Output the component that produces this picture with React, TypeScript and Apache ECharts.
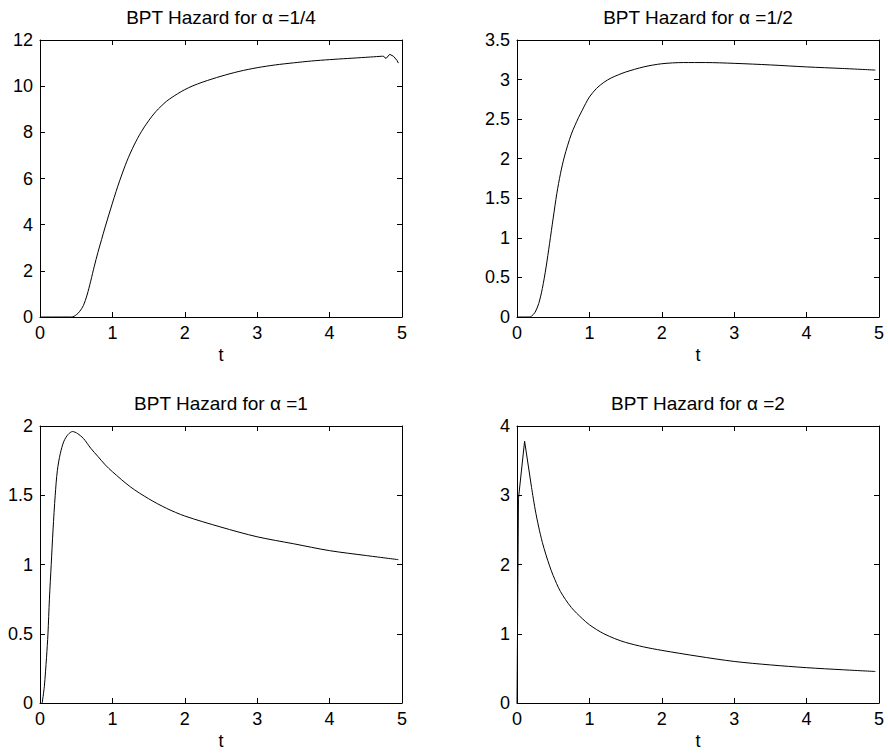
import React, { useEffect, useRef } from "react";
import * as echarts from "echarts";

// alpha = 1/4
const tA = [0, 0.2, 0.4, 0.44, 0.5, 0.55, 0.6, 0.65, 0.7, 0.75, 0.8, 0.85, 0.9, 0.95, 1.0, 1.05, 1.1, 1.2, 1.3, 1.4, 1.5, 1.6, 1.75, 1.9, 2.0, 2.1, 2.25, 2.5, 2.75, 3.0, 3.25, 3.5, 3.75, 4.0, 4.25, 4.5, 4.74, 4.78, 4.83, 4.88, 4.93, 4.95];
const hA = [0, 0, 0, 0, 0.09, 0.25, 0.5, 0.95, 1.55, 2.2, 2.8, 3.35, 3.9, 4.42, 4.93, 5.43, 5.9, 6.75, 7.45, 8.03, 8.5, 8.9, 9.35, 9.67, 9.85, 10.0, 10.18, 10.43, 10.64, 10.8, 10.92, 11.01, 11.09, 11.15, 11.2, 11.25, 11.3, 11.2, 11.38, 11.3, 11.12, 11.0];
const wiggleStartA = 36;

// alpha = 1/2
const tB = [0, 0.1, 0.17, 0.2, 0.25, 0.3, 0.35, 0.4, 0.45, 0.5, 0.55, 0.6, 0.65, 0.7, 0.75, 0.8, 0.85, 0.9, 0.95, 1.0, 1.1, 1.2, 1.3, 1.4, 1.5, 1.75, 2.0, 2.3, 2.6, 3.0, 3.5, 4.0, 4.5, 4.95];
const hB = [0, 0, 0, 0.01, 0.06, 0.17, 0.36, 0.62, 0.93, 1.25, 1.56, 1.81, 2.01, 2.17, 2.31, 2.42, 2.52, 2.61, 2.7, 2.78, 2.89, 2.965, 3.02, 3.06, 3.095, 3.16, 3.2, 3.215, 3.215, 3.205, 3.185, 3.16, 3.14, 3.12];

// alpha = 1
const tC = [0.03, 0.06, 0.09, 0.11, 0.13, 0.155, 0.18, 0.21, 0.24, 0.28, 0.33, 0.39, 0.45, 0.52, 0.6, 0.7, 0.8, 0.9, 1.0, 1.25, 1.5, 1.75, 2.0, 2.5, 3.0, 3.5, 4.0, 4.5, 4.95];
const hC = [0, 0.12, 0.33, 0.5, 0.75, 1.0, 1.25, 1.5, 1.68, 1.8, 1.89, 1.94, 1.96, 1.945, 1.91, 1.84, 1.78, 1.72, 1.67, 1.56, 1.475, 1.405, 1.35, 1.27, 1.2, 1.15, 1.1, 1.065, 1.035];

// alpha = 2 (the first four samples form the sharp initial spike)
const tD = [0, 0.02, 0.105, 0.2, 0.25, 0.3, 0.35, 0.4, 0.45, 0.5, 0.6, 0.75, 0.9, 1.0, 1.1, 1.2, 1.35, 1.5, 1.75, 2.0, 2.5, 3.0, 3.5, 4.0, 4.5, 4.95];
const hD = [0, 2.95, 3.78, 3.12, 2.8, 2.54, 2.32, 2.14, 1.98, 1.84, 1.61, 1.38, 1.22, 1.13, 1.06, 1.0, 0.93, 0.875, 0.81, 0.76, 0.675, 0.6, 0.55, 0.51, 0.48, 0.455];
const spikeEndD = 3;

const titles = ["BPT Hazard for α =1/4", "BPT Hazard for α =1/2", "BPT Hazard for α =1", "BPT Hazard for α =2"];
const xMax = 5;
const xStep = 1;
const yMax = [12, 3.5, 2, 4];
const yStep = [2, 0.5, 0.5, 1];
const xName = "t";

const FONT = '"Liberation Sans", Arial, Helvetica, sans-serif';

const pairs = (ts: number[], hs: number[]) => ts.map((t, j) => [t, hs[j]]);

export default function App() {
  const ref = useRef<HTMLDivElement>(null);
  useEffect(() => {
    if (!ref.current) return;
    const chart = echarts.init(ref.current, undefined, { renderer: "svg" });
    const lefts = [40, 517, 40, 517];
    const tops = [40, 40, 426, 426];
    const W = 362;
    const H = 277;
    const pieces: [number[][], boolean][][] = [
      [
        [pairs(tA.slice(0, wiggleStartA + 1), hA.slice(0, wiggleStartA + 1)), true],
        [pairs(tA.slice(wiggleStartA), hA.slice(wiggleStartA)), false],
      ],
      [[pairs(tB, hB), true]],
      [[pairs(tC, hC), true]],
      [
        [pairs(tD.slice(0, spikeEndD + 1), hD.slice(0, spikeEndD + 1)), false],
        [pairs(tD.slice(spikeEndD), hD.slice(spikeEndD)), true],
      ],
    ];
    const grid: any[] = [];
    const xAxis: any[] = [];
    const yAxis: any[] = [];
    const ser: any[] = [];
    const graphic: any[] = [];
    const axisCommon = (extra: any) => ({
      type: "value",
      splitLine: { show: false },
      axisLine: { show: true, onZero: false, lineStyle: { color: "#000", width: 1 } },
      axisTick: { show: true, inside: true, length: 5, lineStyle: { color: "#000", width: 1 } },
      ...extra,
    });
    for (let i = 0; i < 4; i++) {
      grid.push({ left: lefts[i], top: tops[i], width: W, height: H, containLabel: false });
      xAxis.push(
        axisCommon({
          gridIndex: i,
          position: "bottom",
          min: 0,
          max: xMax,
          interval: xStep,
          name: xName,
          nameLocation: "middle",
          nameGap: 29,
          nameTextStyle: { color: "#000", fontSize: 18, fontFamily: FONT },
          axisLabel: { color: "#000", fontSize: 18, fontFamily: FONT, margin: 7 },
        })
      );
      xAxis.push(
        axisCommon({
          gridIndex: i,
          position: "top",
          min: 0,
          max: xMax,
          interval: xStep,
          axisLabel: { show: false },
        })
      );
      yAxis.push(
        axisCommon({
          gridIndex: i,
          position: "left",
          min: 0,
          max: yMax[i],
          interval: yStep[i],
          axisLabel: { color: "#000", fontSize: 18, fontFamily: FONT, margin: 7 },
        })
      );
      yAxis.push(
        axisCommon({
          gridIndex: i,
          position: "right",
          min: 0,
          max: yMax[i],
          interval: yStep[i],
          axisLabel: { show: false },
        })
      );
      for (const [data, smooth] of pieces[i]) {
        ser.push({
          type: "line",
          xAxisIndex: 2 * i,
          yAxisIndex: 2 * i,
          data,
          showSymbol: false,
          smooth: smooth ? 0.3 : false,
          lineStyle: { color: "#000", width: 1 },
          silent: true,
        });
      }
      graphic.push({
        type: "text",
        x: lefts[i] + W / 2,
        y: tops[i] - 23,
        style: {
          text: titles[i],
          fill: "#000",
          fontSize: 19,
          fontFamily: FONT,
          align: "center",
          verticalAlign: "middle",
        },
      });
    }
    chart.setOption({
      animation: false,
      backgroundColor: "#fff",
      grid,
      xAxis,
      yAxis,
      series: ser,
      graphic,
    });
    return () => chart.dispose();
  }, []);
  return (
    <div
      ref={ref}
      style={{ position: "absolute", left: 0, top: 0, width: 888, height: 754, background: "#fff" }}
    />
  );
}
